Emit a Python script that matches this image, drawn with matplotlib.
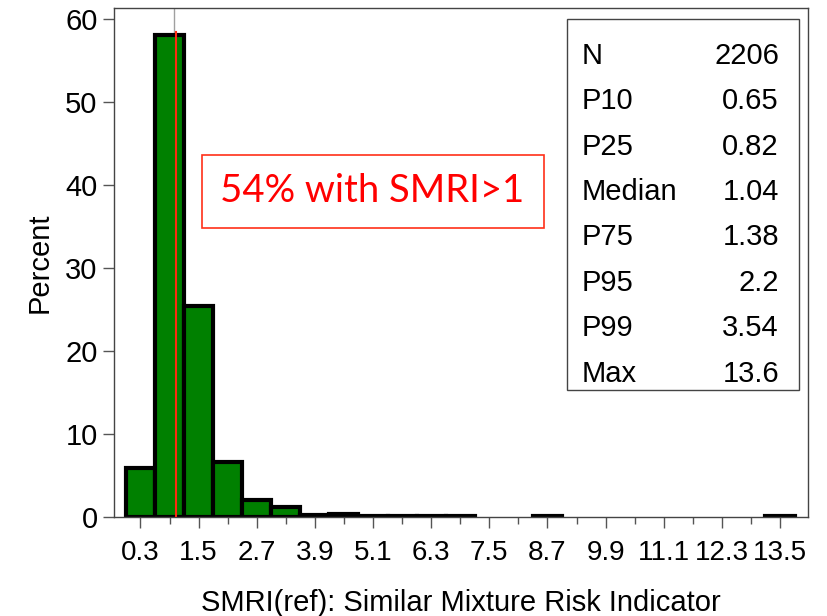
import numpy as np
import matplotlib
matplotlib.use('Agg')
import matplotlib.pyplot as plt
from matplotlib.patches import Rectangle

# histogram bins (midpoints, width 0.6) and percent of observations
bin_mid = [0.3, 0.9, 1.5, 2.1, 2.7, 3.3, 3.9, 4.5, 5.1, 5.7, 6.3, 6.9, 8.7, 13.5]
percent = [5.9, 58.0, 25.4, 6.6, 2.0, 1.2, 0.18, 0.32, 0.05, 0.05, 0.05, 0.05, 0.05, 0.05]
bin_width = 0.6

x_ticks = [0.3, 1.5, 2.7, 3.9, 5.1, 6.3, 7.5, 8.7, 9.9, 11.1, 12.3, 13.5]
y_ticks = [0, 10, 20, 30, 40, 50, 60]

stat_names = ['N', 'P10', 'P25', 'Median', 'P75', 'P95', 'P99', 'Max']
stat_values = ['2206', '0.65', '0.82', '1.04', '1.38', '2.2', '3.54', '13.6']

ref_line = 1.0
median_line = 1.04

plt.rcParams['font.family'] = ['Liberation Sans', 'DejaVu Sans']

fig = plt.figure(figsize=(8.28, 6.16), dpi=100)
ax = fig.add_axes([0.138, 0.161, 0.838, 0.826])

ax.axvline(ref_line, color='#a0a0a0', lw=1.0, zorder=1)
ax.bar(bin_mid, percent, width=bin_width, color='#008000', edgecolor='black',
       linewidth=3.0, zorder=2)
ax.plot([median_line, median_line], [0, 58.4], color='#ff2a10', lw=1.5, zorder=3)

ax.set_xlim(-0.24, 14.08)
ax.set_ylim(0, 61.3)
ax.set_xticks(x_ticks)
ax.set_xticklabels([str(t) for t in x_ticks])
ax.set_xticks(np.array(x_ticks[:-1]) + 0.6, minor=True)
ax.set_yticks(y_ticks)
ax.tick_params(axis='both', which='major', length=8, width=1,
               color='#555555', direction='out')
ax.tick_params(axis='x', which='major', labelsize=20, pad=9)
ax.tick_params(axis='y', which='major', labelsize=21, pad=4)
ax.tick_params(axis='x', which='minor', length=5, width=1, color='#555555')
for s in ax.spines.values():
    s.set_color('#444444')
    s.set_linewidth(1)

ax.set_xlabel('SMRI(ref): Similar Mixture Risk Indicator', fontsize=21, labelpad=16)
ax.set_ylabel('Percent', fontsize=21, labelpad=8)

# statistics box
ax.add_patch(Rectangle((0.653, 0.25), 0.334, 0.728, transform=ax.transAxes,
                       fill=False, edgecolor='#444444', lw=1, zorder=4))
for i, (n, v) in enumerate(zip(stat_names, stat_values)):
    yy = 0.906 - i * 0.0892
    ax.text(0.674, yy, n, transform=ax.transAxes, fontsize=21, va='center', ha='left')
    ax.text(0.958, yy, v, transform=ax.transAxes, fontsize=21, va='center', ha='right')

# annotation
ax.add_patch(Rectangle((0.127, 0.568), 0.493, 0.143, transform=ax.transAxes,
                       fill=False, edgecolor='#ff3019', lw=1.2, zorder=4))
ax.text(0.372, 0.640, '54% with SMRI>1', transform=ax.transAxes, fontsize=27.5,
        color='#ff0000', ha='center', va='center', family=['Lato', 'DejaVu Sans'])

plt.savefig('out.png', dpi=100)
